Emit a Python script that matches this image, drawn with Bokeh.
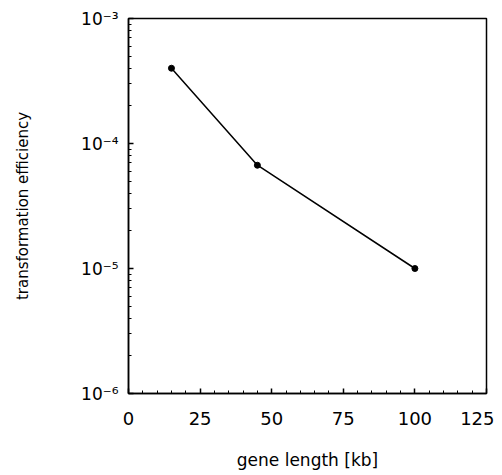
from bokeh.plotting import figure
from bokeh.models import CustomJSTickFormatter, FixedTicker
from bokeh.embed import file_html
from bokeh.resources import INLINE

gene_length_kb = [15, 45, 100]
transformation_efficiency = [4.0e-4, 6.7e-5, 1.0e-5]
x_major_ticks = [0, 25, 50, 75, 100, 125]
x_minor_ticks = [v for v in range(0, 126, 5)]
y_major_ticks = [1e-6, 1e-5, 1e-4, 1e-3]
y_minor_ticks = [m * 10 ** e for e in range(-6, -3) for m in range(1, 10)] + [1e-3]

p = figure(width=494, height=475, output_backend="svg", toolbar_location=None,
           x_range=(0, 125), y_range=(1e-6, 1e-3), y_axis_type="log",
           min_border_left=128, min_border_right=8, min_border_top=18, min_border_bottom=82)
p.grid.visible = False
p.outline_line_color = "black"
p.outline_line_width = 1.5
p.background_fill_color = "white"
p.border_fill_color = "white"

p.line(gene_length_kb, transformation_efficiency, line_color="black", line_width=1.5)
p.scatter(gene_length_kb, transformation_efficiency, size=6, color="black")

font = "DejaVu Sans"
xa = p.xaxis[0]
xa.ticker = FixedTicker(ticks=x_major_ticks, minor_ticks=x_minor_ticks)
xa.axis_label = "gene length [kb]"
xa.major_tick_in = 5
xa.major_tick_out = 0
xa.minor_tick_in = 3
xa.minor_tick_out = 0
xa.axis_line_width = 1.5
xa.major_tick_line_width = 1.5
xa.major_label_standoff = 18
xa.major_label_text_font = font
xa.major_label_text_font_size = "18px"
xa.major_label_text_color = "black"
xa.axis_label_text_font = font
xa.axis_label_text_font_style = "normal"
xa.axis_label_text_font_size = "17px"
xa.axis_label_standoff = 22
xa.axis_label_text_color = "black"

ya = p.yaxis[0]
ya.ticker = FixedTicker(ticks=y_major_ticks, minor_ticks=y_minor_ticks)
ya.formatter = CustomJSTickFormatter(code="""
const sup = {'-':'\u207b','0':'\u2070','1':'\u00b9','2':'\u00b2','3':'\u00b3','4':'\u2074','5':'\u2075','6':'\u2076','7':'\u2077','8':'\u2078','9':'\u2079'};
const e = String(Math.round(Math.log10(tick)));
let s = '';
for (const c of e) s += sup[c];
return '10' + s;
""")
ya.axis_label = "transformation efficiency"
ya.major_tick_in = 5
ya.major_tick_out = 0
ya.minor_tick_in = 3
ya.minor_tick_out = 0
ya.axis_line_width = 1.5
ya.major_tick_line_width = 1.5
ya.major_label_standoff = 10
ya.major_label_text_font = font
ya.major_label_text_font_size = "17px"
ya.major_label_text_color = "black"
ya.axis_label_text_font = font
ya.axis_label_text_font_style = "normal"
ya.axis_label_text_font_size = "15px"
ya.axis_label_standoff = 46
ya.axis_label_text_color = "black"

open("out.html", "w").write(file_html(p, INLINE))
